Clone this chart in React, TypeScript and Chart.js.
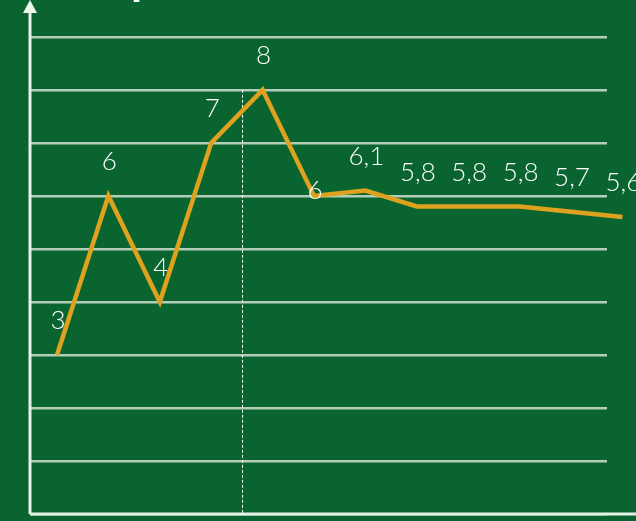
import React, { useEffect, useRef } from "react";
import { Chart, registerables } from "chart.js";

Chart.register(...registerables);

const values: number[] = [3, 6, 4, 7, 8, 6, 6.1, 5.8, 5.8, 5.8, 5.7, 5.6];
const valueLabels: string[] = ["3", "6", "4", "7", "8", "6", "6,1", "5,8", "5,8", "5,8", "5,7", "5,6"];
const yTicks: number[] = [0, 1, 2, 3, 4, 5, 6, 7, 8, 9];
const markerX = 3.6;
const markerTop = 8;
const titleText = "p";

const BG = "#0a6430";
const GRID = "#b4cdb8";
const LINE = "#dfa21f";

export default function App() {
  const ref = useRef<HTMLCanvasElement | null>(null);

  useEffect(() => {
    document.body.style.margin = "0";
    const canvas = ref.current;
    if (!canvas) return;

    const bgPlugin = {
      id: "bg",
      beforeDraw(chart: any) {
        const { ctx, width, height } = chart;
        ctx.save();
        ctx.fillStyle = BG;
        ctx.fillRect(0, 0, width, height);
        ctx.restore();
      },
    };

    const decoPlugin = {
      id: "deco",
      beforeDatasetsDraw(chart: any) {
        const { ctx, scales } = chart;
        const x = scales.x.getPixelForValue(markerX);
        const yTop = scales.y.getPixelForValue(markerTop);
        const yBot = scales.y.getPixelForValue(0);
        ctx.save();
        ctx.strokeStyle = "#ffffff";
        ctx.lineWidth = 1;
        ctx.setLineDash([3, 2]);
        ctx.beginPath();
        ctx.moveTo(x + 0.5, yTop);
        ctx.lineTo(x + 0.5, yBot);
        ctx.stroke();
        ctx.restore();
      },
      afterDraw(chart: any) {
        const { ctx, chartArea, scales, width } = chart;
        const yBot = scales.y.getPixelForValue(0);
        const left = chartArea.left;
        ctx.save();
        ctx.strokeStyle = "#e6f2e8";
        ctx.lineWidth = 3;
        ctx.beginPath();
        ctx.moveTo(left, yBot);
        ctx.lineTo(width, yBot);
        ctx.stroke();
        ctx.beginPath();
        ctx.moveTo(left, yBot);
        ctx.lineTo(left, 8);
        ctx.stroke();
        ctx.fillStyle = "#eef6ef";
        ctx.beginPath();
        ctx.moveTo(left, 0);
        ctx.lineTo(left - 7, 13);
        ctx.lineTo(left + 7, 13);
        ctx.closePath();
        ctx.fill();
        ctx.fillStyle = "#ffffff";
        ctx.font = "bold 40px 'Liberation Sans', Arial, sans-serif";
        ctx.textAlign = "left";
        ctx.textBaseline = "alphabetic";
        ctx.fillText(titleText, 131, -6);

        const meta = chart.getDatasetMeta(0);
        ctx.fillStyle = "#ffffff";
        ctx.font = "300 26px Lato, 'Open Sans', sans-serif";
        ctx.textAlign = "center";
        ctx.textBaseline = "middle";
        meta.data.forEach((pt: any, i: number) => {
          const dy = i === 5 ? -5 : -34;
          ctx.fillText(valueLabels[i], pt.x + 1, pt.y + dy);
        });
        ctx.restore();
      },
    };

    const chart = new Chart(canvas, {
      type: "line",
      data: {
        datasets: [
          {
            data: values.map((v, i) => ({ x: i, y: v })),
            borderColor: LINE,
            borderWidth: 4.5,
            pointRadius: 0,
            tension: 0,
            clip: false as any,
          },
        ],
      },
      options: {
        responsive: false,
        animation: false,
        layout: { padding: { left: 30, right: 29, top: 5, bottom: 7 } },
        plugins: {
          legend: { display: false },
          tooltip: { enabled: false },
          title: { display: false },
        },
        scales: {
          x: {
            type: "linear",
            min: -0.525,
            max: 10.7,
            grid: { display: false, drawTicks: false },
            ticks: { display: false },
            border: { display: false },
          },
          y: {
            type: "linear",
            min: 0,
            max: 9.6,
            afterBuildTicks(axis: any) {
              axis.ticks = yTicks.map((v) => ({ value: v }));
            },
            grid: { color: GRID, lineWidth: 2.5, drawTicks: false },
            ticks: { display: false },
            border: { display: false },
          },
        },
      },
      plugins: [bgPlugin, decoPlugin],
    });

    return () => chart.destroy();
  }, []);

  return (
    <div style={{ width: 636, height: 521 }}>
      <canvas ref={ref} width={636} height={521} />
    </div>
  );
}
